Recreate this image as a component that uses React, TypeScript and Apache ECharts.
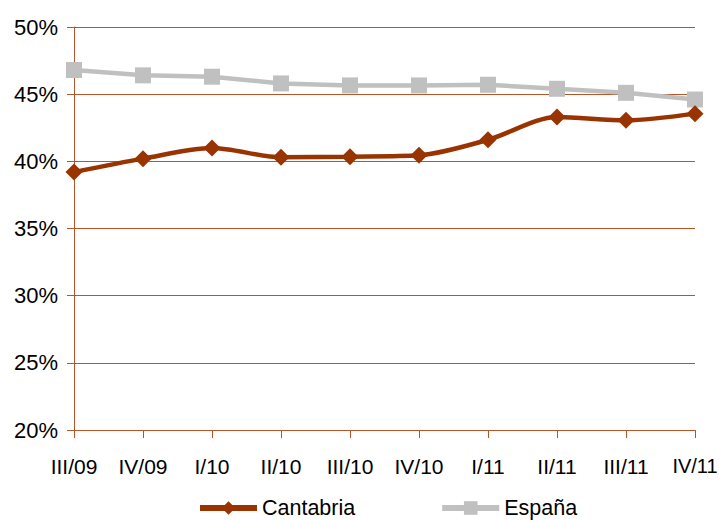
import React, { useEffect, useRef } from "react";
import * as echarts from "echarts";

const categories = ["III/09", "IV/09", "I/10", "II/10", "III/10", "IV/10", "I/11", "II/11", "III/11", "IV/11"];
const cantabria = [39.2, 40.2, 41.0, 40.3, 40.35, 40.45, 41.6, 43.3, 43.05, 43.55];
const espana = [46.8, 46.4, 46.3, 45.8, 45.65, 45.65, 45.7, 45.4, 45.1, 44.6];

const FONT = "'Liberation Sans Narrow', 'Arial Narrow', 'Liberation Sans', Arial, sans-serif";
const AXIS = "#B5562A";

export default function App() {
  const ref = useRef<HTMLDivElement>(null);
  useEffect(() => {
    document.body.style.margin = "0";
    const chart = echarts.init(ref.current!, null, { renderer: "svg" });
    const xData = categories.map((c, i) =>
      i === categories.length - 1 ? { value: c, textStyle: { fontSize: 20 } } : c
    );
    chart.setOption({
      animation: false,
      grid: { left: 74, right: 24, top: 27, bottom: 90, outerBoundsMode: "none", containLabel: false },
      legend: {
        top: 497,
        left: 197,
        padding: 0,
        itemGap: 84,
        itemWidth: 57,
        itemHeight: 17,
        itemTextGap: 4,
        lineStyle: { width: 6 },
        textStyle: { fontFamily: FONT, fontSize: 21.5, color: "#000" },
        data: ["Cantabria", "España"],
      },
      xAxis: {
        type: "category",
        data: xData,
        boundaryGap: false,
        axisLine: { lineStyle: { color: AXIS, width: 1 } },
        axisTick: { show: true, length: 8, lineStyle: { color: AXIS } },
        axisLabel: { margin: 26, fontFamily: FONT, fontSize: 21, color: "#000", interval: 0 },
      },
      yAxis: {
        type: "value",
        min: 20,
        max: 50,
        interval: 5,
        axisLine: { show: true, lineStyle: { color: AXIS, width: 1 } },
        axisTick: { show: true, length: 7, lineStyle: { color: AXIS } },
        splitLine: { lineStyle: { color: AXIS, width: 1 } },
        axisLabel: { margin: 16, fontFamily: FONT, fontSize: 22, color: "#000", formatter: "{value}%" },
      },
      series: [
        {
          name: "Cantabria",
          type: "line",
          data: cantabria,
          smooth: 0.3,
          clip: false,
          symbol: "diamond",
          symbolSize: 17,
          lineStyle: { color: "#993300", width: 4.5 },
          itemStyle: { color: "#993300" },
          z: 3,
        },
        {
          name: "España",
          type: "line",
          data: espana,
          clip: false,
          symbol: "rect",
          symbolSize: 16,
          lineStyle: { color: "#C0C0C0", width: 4.5 },
          itemStyle: { color: "#C0C0C0" },
          z: 2,
        },
      ],
    });
    return () => chart.dispose();
  }, []);
  return <div ref={ref} style={{ position: "absolute", left: 0, top: 0, width: 719, height: 520 }} />;
}
